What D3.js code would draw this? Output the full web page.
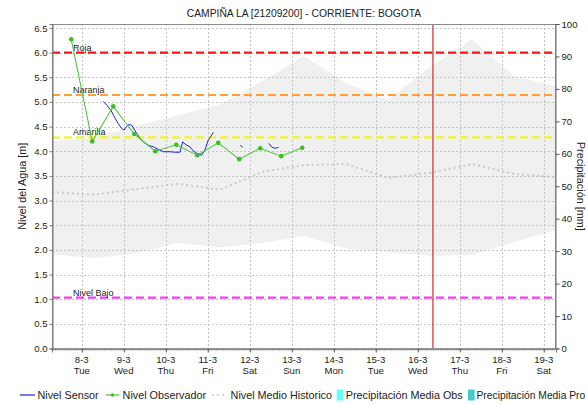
<!DOCTYPE html>
<html>
<head>
<meta charset="utf-8">
<script src="https://cdn.jsdelivr.net/npm/d3@7"></script>
<style>
  html, body { margin: 0; padding: 0; background: #fff; overflow: hidden; }
  svg { display: block; font-family: "Liberation Sans", Arial, sans-serif; }
</style>
</head>
<body>
<svg id="chart" width="588" height="404"></svg>
<script>
// ---- data ----
const chartTitle = "CAMPIÑA LA [21209200] - CORRIENTE: BOGOTA";

// historic daily envelope and mean (m)
const histTimes = ["2022-03-07 07:00","2022-03-08 07:00","2022-03-09 07:00","2022-03-10 07:00",
  "2022-03-11 07:00","2022-03-12 07:00","2022-03-13 07:00","2022-03-14 07:00","2022-03-15 07:00",
  "2022-03-16 07:00","2022-03-17 07:00","2022-03-18 07:00","2022-03-19 07:00"];
const histMax  = [4.20, 4.29, 4.51, 4.73, 4.95, 5.42, 5.93, 5.38, 5.05, 5.71, 6.27, 5.52, 5.32];
const histMin  = [1.91, 1.83, 1.93, 2.14, 2.05, 2.14, 2.28, 2.03, 1.95, 1.88, 1.89, 2.16, 2.40];
const histMean = [3.17, 3.12, 3.23, 3.34, 3.22, 3.58, 3.72, 3.74, 3.46, 3.56, 3.74, 3.54, 3.47];

// observer readings (m)
const obsTimes = ["2022-03-07 18:00","2022-03-08 06:00","2022-03-08 18:00","2022-03-09 06:00",
  "2022-03-09 18:00","2022-03-10 06:00","2022-03-10 18:00","2022-03-11 06:00","2022-03-11 18:00",
  "2022-03-12 06:00","2022-03-12 18:00","2022-03-13 06:00"];
const obsLevels = [6.27, 4.20, 4.91, 4.35, 4.00, 4.13, 3.92, 4.17, 3.84, 4.06, 3.90, 4.07];

// sensor readings (m); null marks a gap in transmission
const sensorTimes = ["2022-03-08 12:20","2022-03-08 14:25","2022-03-08 16:40","2022-03-08 19:00",
  "2022-03-08 20:40","2022-03-08 22:50","2022-03-09 00:10","2022-03-09 02:35","2022-03-09 04:30",
  "2022-03-09 07:25","2022-03-09 09:20","2022-03-09 11:10","2022-03-09 13:50","2022-03-09 16:55",
  "2022-03-09 19:35","2022-03-09 22:35","2022-03-10 02:25","2022-03-10 05:15","2022-03-10 08:05",
  "2022-03-10 09:40","2022-03-10 11:35","2022-03-10 13:50","2022-03-10 15:35","2022-03-10 17:40",
  "2022-03-10 20:30","2022-03-10 22:25","2022-03-11 00:20","2022-03-11 01:55","2022-03-11 03:10",
  "2022-03-11 10:00",
  "2022-03-11 18:35","2022-03-11 20:00",
  "2022-03-12 03:00",
  "2022-03-12 10:50","2022-03-12 12:40","2022-03-12 14:35","2022-03-12 16:30"];
const sensorLevels = [5.01, 4.93, 4.83, 4.67,
  4.57, 4.46, 4.43, 4.54, 4.53,
  4.36, 4.26, 4.19, 4.12, 4.09,
  4.04, 3.99, 3.99, 3.98, 3.98,
  4.19, 4.13, 4.09, 4.01, 3.96,
  3.92, 4.03, 4.23, 4.31, 4.38,
  null,
  4.12, 4.08,
  null,
  4.16, 4.08, 4.06, 4.08];

// alert thresholds (m)
const thresholdNames  = ["Roja", "Naranja", "Amarilla", "Nivel Bajo"];
const thresholdLevels = [6.00, 5.14, 4.28, 1.03];
const thresholdColors = ["#ff1414", "#ffa030", "#f4f42a", "#f040f0"];

const nowTime = "2022-03-16 08:40";
const timeStart = "2022-03-07 07:00", timeEnd = "2022-03-19 07:00";
const levelTicks = d3.range(0, 6.51, 0.5);
const precipTicks = d3.range(0, 101, 10);

const legendNames = ["Nivel Sensor", "Nivel Observador", "Nivel Medio Historico",
  "Precipitación Media Obs", "Precipitación Media Pro"];

// ---- layout ----
const L = 52, R = 556, T = 24, B = 348.5;
const parse = d3.timeParse("%Y-%m-%d %H:%M");

const x = d3.scaleTime().domain([parse(timeStart), parse(timeEnd)]).range([L, R]);
const y = d3.scaleLinear().domain([0, 6.58]).range([B, T]);
const yp = d3.scaleLinear().domain([0, 100]).range([B, T]);

const svg = d3.select("#chart");
const txt = "#222";

// historic range band
const hist = histTimes.map((t, i) => ({ t: parse(t), hi: histMax[i], lo: histMin[i], m: histMean[i] }));
svg.append("path")
  .datum(hist)
  .attr("fill", "#f0f0f0")
  .attr("d", d3.area().x(d => x(d.t)).y0(d => y(d.lo)).y1(d => y(d.hi)));

// grid
const days = d3.timeDay.range(d3.timeDay.ceil(parse(timeStart)), parse(timeEnd));
const grid = svg.append("g").attr("stroke", "#c4c4c4").attr("stroke-width", 1).attr("stroke-dasharray", "2,2");
grid.selectAll("line.h").data(levelTicks.filter(v => v > 0)).join("line")
  .attr("x1", L).attr("x2", R)
  .attr("y1", d => Math.round(y(d)) + 0.5).attr("y2", d => Math.round(y(d)) + 0.5);
grid.selectAll("line.v").data(days).join("line")
  .attr("x1", d => Math.round(x(d)) + 0.5).attr("x2", d => Math.round(x(d)) + 0.5)
  .attr("y1", T).attr("y2", B);

// historic mean
svg.append("path")
  .datum(hist)
  .attr("fill", "none")
  .attr("stroke", "#c8c8c8")
  .attr("stroke-width", 2)
  .attr("stroke-dasharray", "2,3")
  .attr("d", d3.line().x(d => x(d.t)).y(d => y(d.m)));

// thresholds
thresholdLevels.forEach((v, i) => {
  svg.append("line")
    .attr("x1", L).attr("x2", R)
    .attr("y1", y(v)).attr("y2", y(v))
    .attr("stroke", thresholdColors[i])
    .attr("stroke-width", 2.2)
    .attr("stroke-dasharray", "8,4");
  svg.append("text")
    .attr("x", L + 21).attr("y", y(v) - 2)
    .attr("font-size", 9).attr("fill", txt)
    .text(thresholdNames[i]);
});

// sensor level
const sensor = sensorTimes.map((t, i) => ({ t: parse(t), v: sensorLevels[i] }));
svg.append("path")
  .datum(sensor)
  .attr("fill", "none")
  .attr("stroke", "#1f1ff0")
  .attr("stroke-width", 1)
  .attr("d", d3.line().defined(d => d.v !== null).x(d => x(d.t)).y(d => y(d.v)));

// observer level
const obs = obsTimes.map((t, i) => ({ t: parse(t), v: obsLevels[i] }));
svg.append("path")
  .datum(obs)
  .attr("fill", "none")
  .attr("stroke", "#4cc83a")
  .attr("stroke-width", 1.1)
  .attr("d", d3.line().x(d => x(d.t)).y(d => y(d.v)));
svg.append("g").selectAll("circle").data(obs).join("circle")
  .attr("cx", d => x(d.t)).attr("cy", d => y(d.v)).attr("r", 2.3)
  .attr("fill", "#38c020");

// current time marker
svg.append("line")
  .attr("x1", x(parse(nowTime))).attr("x2", x(parse(nowTime)))
  .attr("y1", T).attr("y2", B)
  .attr("stroke", "#d83838").attr("stroke-width", 1.3);

// frame
svg.append("rect")
  .attr("x", L + 0.5).attr("y", T + 0.5).attr("width", R - L - 1).attr("height", B - T)
  .attr("fill", "none").attr("stroke", "#8a8a8a").attr("stroke-width", 1);

// left axis
const yAxis = svg.append("g").attr("transform", `translate(${L + 0.5},0)`)
  .call(d3.axisLeft(y).tickValues(levelTicks).tickFormat(d3.format(".1f")).tickSize(3).tickPadding(2));
yAxis.select(".domain").attr("stroke", "#777");
yAxis.selectAll(".tick line").attr("stroke", "#777");
yAxis.selectAll("text").attr("font-size", 9.6).attr("fill", txt).attr("font-family", null);

// right axis
const pAxis = svg.append("g").attr("transform", `translate(${R - 0.5},0)`)
  .call(d3.axisRight(yp).tickValues(precipTicks).tickSize(4).tickPadding(2));
pAxis.select(".domain").attr("stroke", "#777");
pAxis.selectAll(".tick line").attr("stroke", "#555");
pAxis.selectAll("text").attr("font-size", 9.6).attr("fill", txt).attr("font-family", null);

// bottom axis: hourly minor ticks, daily major ticks with date + weekday
const hours = d3.timeHour.range(parse(timeStart), parse(timeEnd));
svg.append("g").selectAll("line").data(hours).join("line")
  .attr("x1", d => x(d)).attr("x2", d => x(d))
  .attr("y1", B).attr("y2", B + 2)
  .attr("stroke", "#777").attr("stroke-width", 0.8);
const xAxis = svg.append("g").attr("transform", `translate(0,${B})`)
  .call(d3.axisBottom(x).tickValues(days).tickSize(4).tickFormat(""));
xAxis.select(".domain").attr("stroke", "#777");
xAxis.selectAll(".tick line").attr("stroke", "#555");
const fmtDay = d3.timeFormat("%-d-%-m"), fmtWd = d3.timeFormat("%a");
const dayLabels = svg.append("g").attr("font-size", 9.6).attr("fill", txt).attr("text-anchor", "middle");
dayLabels.selectAll("text.d").data(days).join("text")
  .attr("x", d => x(d)).attr("y", B + 14).text(fmtDay);
dayLabels.selectAll("text.w").data(days).join("text")
  .attr("x", d => x(d)).attr("y", B + 25.5).text(fmtWd);

// titles
svg.append("text")
  .attr("x", (L + R) / 2).attr("y", 16.5)
  .attr("text-anchor", "middle").attr("font-size", 10.3).attr("fill", txt)
  .text(chartTitle);
svg.append("text")
  .attr("transform", `translate(25.5,${(T + B) / 2}) rotate(-90)`)
  .attr("text-anchor", "middle").attr("font-size", 10.8).attr("fill", txt)
  .text("Nivel del Agua [m]");
svg.append("text")
  .attr("transform", `translate(576.5,${(T + B) / 2}) rotate(90)`)
  .attr("text-anchor", "middle").attr("font-size", 10.8).attr("fill", txt)
  .text("Precipitación [mm]");

// legend
const ly = 395;
const lg = svg.append("g").attr("font-size", 10.8).attr("fill", txt);
lg.append("line").attr("x1", 20).attr("x2", 35).attr("y1", ly).attr("y2", ly)
  .attr("stroke", "#1f1ff0").attr("stroke-width", 1.2);
lg.append("text").attr("x", 37.5).attr("y", ly + 4).text(legendNames[0]);
lg.append("line").attr("x1", 105.5).attr("x2", 119.5).attr("y1", ly).attr("y2", ly)
  .attr("stroke", "#4cc83a").attr("stroke-width", 1.2);
lg.append("circle").attr("cx", 112.5).attr("cy", ly).attr("r", 1.7).attr("fill", "#38c020");
lg.append("text").attr("x", 122.6).attr("y", ly + 4).text(legendNames[1]);
lg.append("line").attr("x1", 212).attr("x2", 227).attr("y1", ly).attr("y2", ly)
  .attr("stroke", "#c8c8c8").attr("stroke-width", 1.5).attr("stroke-dasharray", "2,3");
lg.append("text").attr("x", 230.6).attr("y", ly + 4).text(legendNames[2]);
lg.append("rect").attr("x", 336.7).attr("y", ly - 5.5).attr("width", 6.4).attr("height", 11).attr("fill", "#66ffff");
lg.append("text").attr("x", 345.7).attr("y", ly + 4).text(legendNames[3]);
lg.append("rect").attr("x", 468).attr("y", ly - 5.5).attr("width", 6.6).attr("height", 11).attr("fill", "#44cccc");
lg.append("text").attr("x", 476.5).attr("y", ly + 4).attr("font-size", 10.3).text(legendNames[4]);
</script>
</body>
</html>
